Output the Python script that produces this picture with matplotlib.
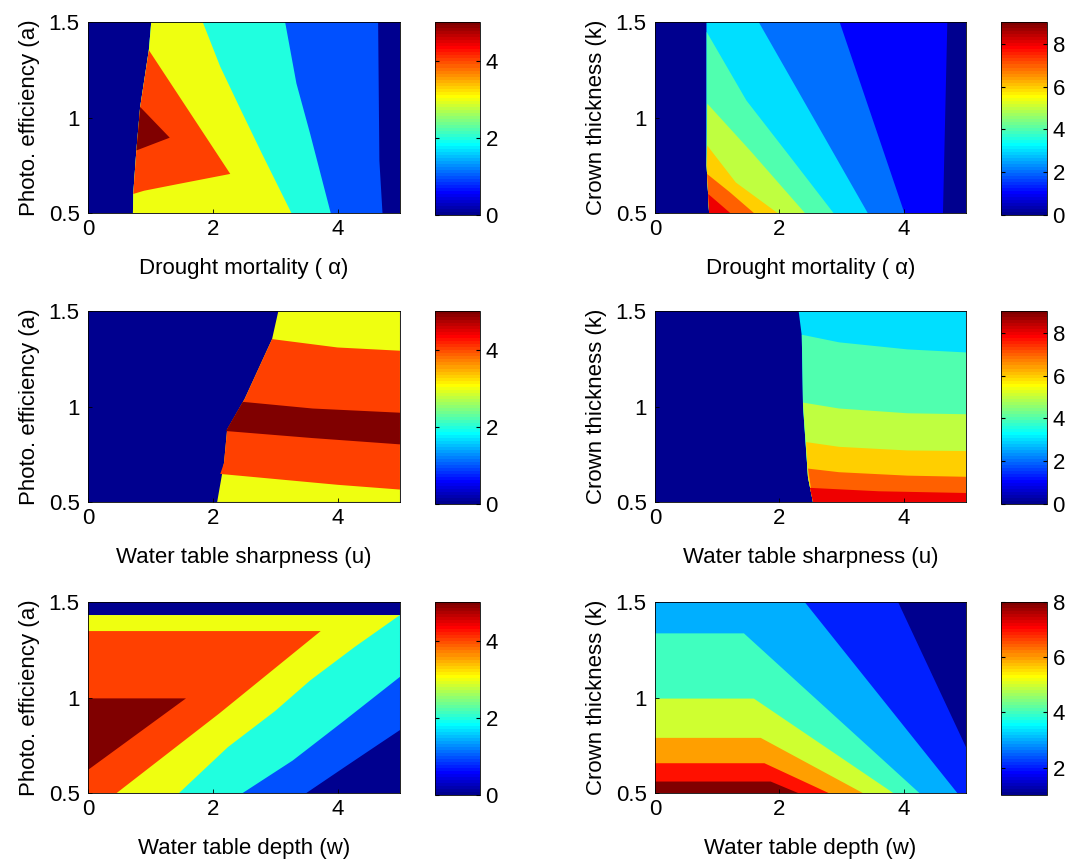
import numpy as np
import matplotlib
matplotlib.use("Agg")
import matplotlib.pyplot as plt
from matplotlib.colors import ListedColormap, Normalize
from matplotlib.cm import ScalarMappable

plt.rcParams['font.family'] = ['Liberation Sans', 'DejaVu Sans']
plt.rcParams['font.size'] = 16

# matlab style jet, 64 entries
I = np.arange(1, 65)
red = np.interp(I, [1, 24, 40, 56, 64], [0, 0, 1, 1, 0.5])
green = np.interp(I, [1, 8, 24, 40, 56, 64], [0, 0, 1, 1, 0, 0])
blue = np.interp(I, [1, 8, 24, 40, 64], [0.5625, 1, 1, 0, 0])
jet64 = ListedColormap(np.column_stack([red, green, blue]))

# ---- data: filled regions (level, outline x, outline y)
# panel 1 : photo efficiency vs drought mortality
p1_levels = [0, 1, 2, 3, 4, 5]
p1_x = [[0, 5, 5, 0],
        [1.013, 0.975, 0.836, 0.775, 0.725, 0.72, 4.72, 4.67, 4.65],
        [1.013, 0.975, 0.836, 0.775, 0.725, 0.72, 3.89, 3.56, 3.34, 3.16],
        [1.013, 0.975, 0.836, 0.775, 0.725, 0.72, 3.26, 2.79, 2.45, 2.12, 1.84],
        [0.975, 2.28, 1.46, 0.90, 0.725, 0.775, 0.836],
        [0.836, 1.31, 0.775]]
p1_y = [[0.5, 0.5, 1.5, 1.5],
        [1.5, 1.354, 1.056, 0.828, 0.60, 0.5, 0.5, 0.775, 1.5],
        [1.5, 1.354, 1.056, 0.828, 0.60, 0.5, 0.5, 0.916, 1.18, 1.5],
        [1.5, 1.354, 1.056, 0.828, 0.60, 0.5, 0.5, 0.81, 1.04, 1.267, 1.5],
        [1.354, 0.705, 0.653, 0.617, 0.60, 0.828, 1.056],
        [1.056, 0.895, 0.828]]

# panel 2 : crown thickness vs drought mortality
p2_levels = [0, 1, 2, 3, 4, 5, 6, 7, 8]
p2_x = [[0, 5, 5, 0],
        [0.83, 0.83, 0.87, 4.63, 4.70],
        [0.83, 0.83, 0.87, 4.01, 2.97],
        [0.83, 0.83, 0.87, 3.42, 1.67],
        [0.83, 0.83, 0.87, 2.87, 2.22, 1.47],
        [0.84, 0.83, 0.87, 2.41, 1.55],
        [0.84, 0.83, 0.87, 1.97, 1.30],
        [0.837, 0.87, 1.59, 1.2],
        [0.855, 0.87, 1.21]]
p2_y = [[0.5, 0.5, 1.5, 1.5],
        [1.5, 0.75, 0.5, 0.5, 1.5],
        [1.5, 0.75, 0.5, 0.5, 1.5],
        [1.5, 0.75, 0.5, 0.5, 1.5],
        [1.45, 0.75, 0.5, 0.5, 0.775, 1.09],
        [1.074, 0.75, 0.5, 0.5, 0.82],
        [0.854, 0.75, 0.5, 0.5, 0.66],
        [0.705, 0.5, 0.5, 0.61],
        [0.60, 0.5, 0.5]]

# panel 3 : photo efficiency vs water table sharpness
p3_levels = [0, 3, 4, 5]
p3_x = [[0, 5, 5, 0],
        [3.05, 2.95, 2.51, 2.23, 2.18, 2.07, 5, 5],
        [2.95, 4.0, 5, 5, 4.0, 2.12, 2.18, 2.23, 2.51],
        [2.48, 3.6, 5, 5, 3.6, 2.21]]
p3_y = [[0.5, 0.5, 1.5, 1.5],
        [1.5, 1.354, 1.04, 0.88, 0.705, 0.5, 0.5, 1.5],
        [1.354, 1.31, 1.293, 0.565, 0.59, 0.647, 0.705, 0.88, 1.04],
        [1.025, 0.99, 0.968, 0.802, 0.835, 0.872]]

# panel 4 : crown thickness vs water table sharpness
p4_levels = [0, 3, 4, 5, 6, 7, 8]
p4_x = [[0, 5, 5, 0],
        [2.31, 2.36, 2.38, 2.46, 2.54, 5, 5],
        [2.36, 2.96, 4.06, 5, 5, 2.54, 2.46, 2.38],
        [2.38, 2.96, 4.06, 5, 5, 2.54, 2.46],
        [2.43, 2.96, 4.06, 5, 5, 2.54, 2.46],
        [2.46, 2.96, 4.06, 5, 5, 2.54],
        [2.49, 3.6, 5, 5, 2.54]]
p4_y = [[0.5, 0.5, 1.5, 1.5],
        [1.5, 1.372, 1.0, 0.63, 0.5, 0.5, 1.5],
        [1.377, 1.337, 1.30, 1.284, 0.5, 0.5, 0.63, 1.0],
        [1.021, 0.99, 0.965, 0.96, 0.5, 0.5, 0.63],
        [0.814, 0.789, 0.77, 0.767, 0.5, 0.5, 0.63],
        [0.675, 0.656, 0.638, 0.632, 0.5, 0.5],
        [0.574, 0.556, 0.547, 0.5, 0.5]]

# panel 5 : photo efficiency vs water table depth
p5_levels = [0, 1, 2, 3, 4, 5]
p5_x = [[0, 5, 5, 0],
        [0, 3.5, 4.11, 4.67, 5, 5, 0],
        [0, 2.48, 3.28, 4.11, 5, 5, 0],
        [0, 1.46, 2.24, 3.0, 3.56, 4.28, 5, 0],
        [0, 0.46, 2.1, 3.73, 0],
        [0, 1.57, 0]]
p5_y = [[0.5, 0.5, 1.5, 1.5],
        [0.5, 0.5, 0.635, 0.758, 0.83, 1.433, 1.433],
        [0.5, 0.5, 0.67, 0.88, 1.109, 1.433, 1.433],
        [0.5, 0.5, 0.74, 0.93, 1.09, 1.267, 1.433, 1.433],
        [0.5, 0.5, 0.916, 1.349, 1.349],
        [0.621, 0.996, 0.996]]

# panel 6 : crown thickness vs water table depth
p6_levels = [1, 2, 3, 4, 5, 6, 7, 8]
p6_x = [[0, 5, 5, 0],
        [0, 5, 5, 3.91, 0],
        [0, 4.86, 2.41, 0],
        [0, 4.25, 1.43, 0],
        [0, 3.83, 1.59, 0],
        [0, 3.34, 1.70, 0],
        [0, 2.79, 1.76, 0],
        [0, 2.30, 1.86, 0]]
p6_y = [[0.5, 0.5, 1.5, 1.5],
        [0.5, 0.5, 0.74, 1.5, 1.5],
        [0.5, 0.5, 1.5, 1.5],
        [0.5, 0.5, 1.337, 1.337],
        [0.5, 0.5, 0.995, 0.995],
        [0.5, 0.5, 0.789, 0.789],
        [0.5, 0.5, 0.656, 0.656],
        [0.5, 0.5, 0.56, 0.56]]

xlabels = ["Drought mortality ( \u03b1)", "Drought mortality ( \u03b1)",
           "Water table sharpness (u)", "Water table sharpness (u)",
           "Water table depth (w)", "Water table depth (w)"]
ylabels = ["Photo. efficiency (a)", "Crown thickness (k)"] * 3
clims = [(0, 5), (0, 9), (0, 5), (0, 9), (0, 5), (1, 8)]
cticks = [[0, 2, 4], [0, 2, 4, 6, 8], [0, 2, 4], [0, 2, 4, 6, 8],
          [0, 2, 4], [2, 4, 6, 8]]

panels = [(p1_levels, p1_x, p1_y), (p2_levels, p2_x, p2_y),
          (p3_levels, p3_x, p3_y), (p4_levels, p4_x, p4_y),
          (p5_levels, p5_x, p5_y), (p6_levels, p6_x, p6_y)]


def level_color(v, vmin, vmax):
    # matlab picks colormap row by fix((v-cmin)/(cmax-cmin)*m)
    k = int((v - vmin) / (vmax - vmin) * 64)
    return jet64(min(max(k, 0), 63))


fig = plt.figure(figsize=(10.72, 8.61), dpi=100)

ax_left = [0.0821, 0.6110]
ax_width = [0.2910, 0.2901]
cb_left = [0.4058, 0.9338]
cb_width = [0.0420, 0.0429]
row_bottom = [0.7526, 0.4170, 0.0790]
ax_height = 0.2215

for i in range(6):
    col = i % 2
    row = i // 2
    ax = fig.add_axes([ax_left[col], row_bottom[row], ax_width[col], ax_height])
    cax = fig.add_axes([cb_left[col], row_bottom[row] - 0.0025, cb_width[col], ax_height + 0.0025])
    levels, xs, ys = panels[i]
    vmin, vmax = clims[i]
    for lev, px, py in zip(levels, xs, ys):
        ax.fill(px, py, color=level_color(lev, vmin, vmax), lw=0)
    ax.set_xlim(0, 5)
    ax.set_ylim(0.5, 1.5)
    ax.set_xticks([0, 2, 4])
    ax.set_yticks([0.5, 1, 1.5])
    ax.set_yticklabels(["0.5", "1", "1.5"])
    ax.tick_params(direction='in', length=3, width=0.6, labelsize=16)
    ax.tick_params(axis='x', pad=4)
    ax.tick_params(axis='y', pad=6)
    for s in ax.spines.values():
        s.set_linewidth(0.6)
    ax.set_xlabel(xlabels[i], fontsize=16, labelpad=13)
    ax.set_ylabel(ylabels[i], fontsize=16, labelpad=6)

    sm = ScalarMappable(norm=Normalize(vmin, vmax), cmap=jet64)
    cb = fig.colorbar(sm, cax=cax, ticks=cticks[i])
    cb.outline.set_linewidth(0.6)
    cax.tick_params(direction='in', length=3, width=0.8, left=True, right=True,
                    pad=4, labelsize=16)

fig.savefig("out.png", dpi=100)
